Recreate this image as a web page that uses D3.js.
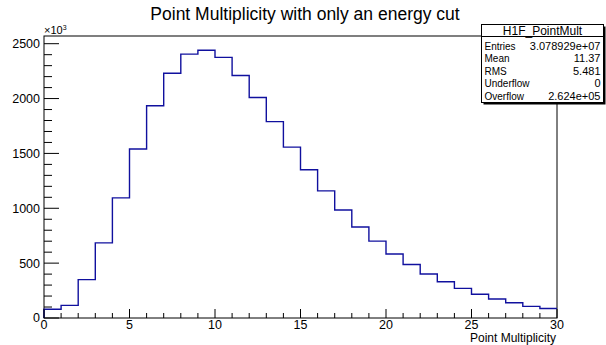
<!DOCTYPE html>
<html lang="en">
<head>
<meta charset="UTF-8">
<title>Point Multiplicity</title>
<style>
    body { margin: 0; background: #fff; }
    svg { display: block; font-family: "Liberation Sans", Arial, sans-serif; }
</style>
</head>
<body>
<script src="https://cdn.jsdelivr.net/npm/d3@7/dist/d3.min.js"></script>
<script>
    const W = 606, H = 345;

    // bin contents (x10^3), bins of width 1 from 0 to 30
    const binEdges = d3.range(0, 31);
    const counts = [80, 115, 350, 685, 1095, 1540, 1935, 2230, 2405, 2440,
                    2375, 2210, 2010, 1790, 1557, 1351, 1159, 984, 829, 701,
                    583, 488, 401, 331, 270, 216, 173, 139, 106, 87];
    const xTicks = [0, 5, 10, 15, 20, 25, 30];
    const yTicks = [0, 500, 1000, 1500, 2000, 2500];
    const statNames = ["Entries", "Mean", "RMS", "Underflow", "Overflow"];
    const statValues = ["3.078929e+07", "11.37", "5.481", "0", "2.624e+05"];

    const fL = 44, fR = 557, fT = 36, fB = 318;

    const svg = d3.select("body").append("svg")
        .attr("width", W).attr("height", H);

    const x = d3.scaleLinear().domain([0, 30]).range([fL, fR]);
    const y = d3.scaleLinear().domain([0, 2500 * (fB - fT) / (fB - 43.7)]).range([fB, fT]);

    // frame
    svg.append("rect")
        .attr("x", fL).attr("y", fT)
        .attr("width", fR - fL).attr("height", fB - fT)
        .attr("fill", "none").attr("stroke", "#000").attr("stroke-width", 1);

    // histogram outline
    let pts = [[x(0), y(0)]];
    counts.forEach((c, i) => {
        pts.push([x(binEdges[i]), y(c)]);
        pts.push([x(binEdges[i + 1]), y(c)]);
    });
    svg.append("path")
        .attr("d", d3.line()(pts))
        .attr("fill", "none")
        .attr("stroke", "#10109e")
        .attr("stroke-width", 1.4);

    // x axis ticks (pointing up)
    const gx = svg.append("g");
    gx.selectAll("line").data(d3.range(0, 31)).join("line")
        .attr("x1", d => x(d)).attr("x2", d => x(d))
        .attr("y1", fB).attr("y2", d => d % 5 === 0 ? fB - 9 : fB - 5)
        .attr("stroke", "#000");
    gx.selectAll("text").data(xTicks).join("text")
        .attr("x", d => x(d)).attr("y", 328.5)
        .attr("text-anchor", "middle")
        .attr("font-size", 12.5)
        .text(d => d);
    svg.append("text")
        .attr("x", fR - 1).attr("y", 342)
        .attr("text-anchor", "end")
        .attr("font-size", 12)
        .text("Point Multiplicity");

    // y axis ticks (pointing right)
    const gy = svg.append("g");
    gy.selectAll("line").data(d3.range(0, 2501, 100)).join("line")
        .attr("x1", fL).attr("x2", d => d % 500 === 0 ? fL + 15 : fL + 8)
        .attr("y1", d => y(d)).attr("y2", d => y(d))
        .attr("stroke", "#000");
    gy.selectAll("text").data(yTicks).join("text")
        .attr("x", 40).attr("y", d => d === 0 ? y(d) + 4 : y(d) + 4.5)
        .attr("text-anchor", "end")
        .attr("font-size", 12.5)
        .text(d => d);
    const mult = svg.append("text").attr("x", 44).attr("y", 34).attr("font-size", 11);
    mult.append("tspan").text("\u00d710");
    mult.append("tspan").attr("dy", -4).attr("font-size", 7).text("3");

    // title
    svg.append("text")
        .attr("x", 305).attr("y", 20)
        .attr("text-anchor", "middle")
        .attr("font-size", 17.5)
        .text("Point Multiplicity with only an energy cut");

    // stats box
    const bx = 481.5, by = 24.5, bw = 122, bh = 78;
    svg.append("rect").attr("x", bx + 2).attr("y", by + 2).attr("width", bw).attr("height", bh).attr("fill", "#000");
    svg.append("rect").attr("x", bx).attr("y", by).attr("width", bw).attr("height", bh)
        .attr("fill", "#fff").attr("stroke", "#000");
    svg.append("line").attr("x1", bx).attr("x2", bx + bw).attr("y1", 36.5).attr("y2", 36.5).attr("stroke", "#000");
    svg.append("text").attr("x", bx + bw / 2).attr("y", 34.5)
        .attr("text-anchor", "middle").attr("font-size", 12).text("H1F_PointMult");
    const rows = svg.append("g").selectAll("g").data(statNames).join("g");
    rows.append("text").attr("x", bx + 3).attr("y", (d, i) => 49.5 + i * 12.6)
        .attr("font-size", 10).text(d => d);
    rows.append("text").attr("x", bx + bw - 3).attr("y", (d, i) => 49.5 + i * 12.6)
        .attr("text-anchor", "end").attr("font-size", 11).text((d, i) => statValues[i]);
</script>
</body>
</html>
